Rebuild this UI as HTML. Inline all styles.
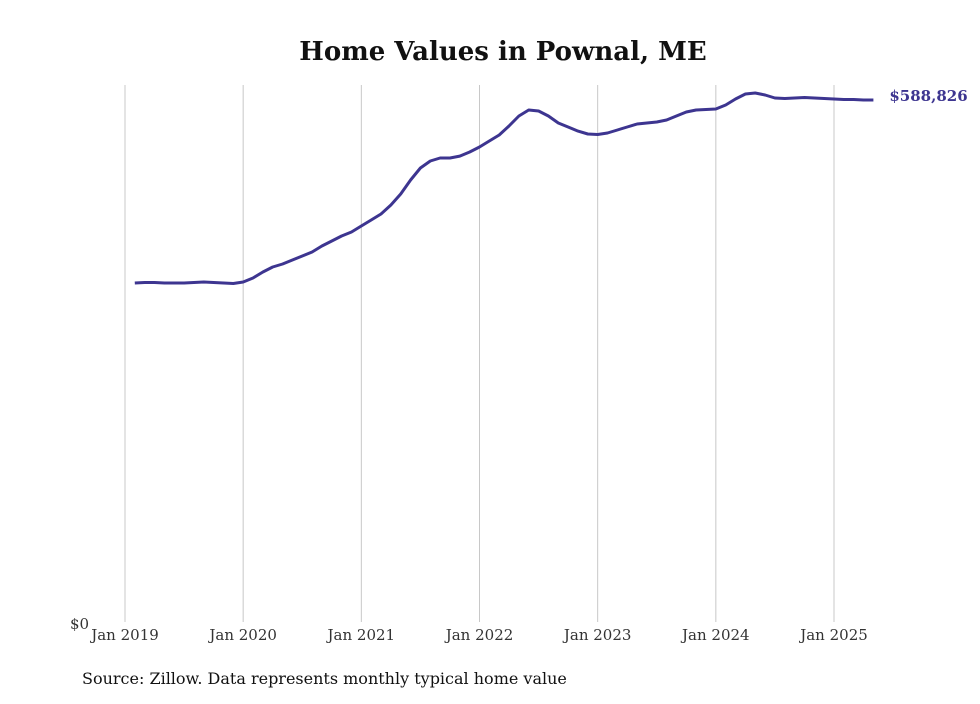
<!DOCTYPE html>
<html><head><meta charset="utf-8">
<style>
body{margin:0;background:#fff;}
svg text{font-family:"DejaVu Serif","Liberation Serif",serif;}
</style></head>
<body>
<svg width="980" height="699" viewBox="0 0 980 699" xmlns="http://www.w3.org/2000/svg">
<text x="503" y="60" text-anchor="middle" font-size="26" font-weight="bold" fill="#111">Home Values in Pownal, ME</text>
<g id="grid"></g>
<g id="xlabels"></g>
<text x="70" y="629" font-size="15" fill="#333">$0</text>
<path id="line" fill="none" stroke="#3d3590" stroke-width="3" stroke-linejoin="round"/>
<text id="endlabel" font-size="15" font-weight="bold" fill="#3d3590"></text>
<text x="82" y="684" font-size="16" fill="#111">Source: Zillow. Data represents monthly typical home value</text>
</svg>
<script>
const tickLabels=["Jan 2019","Jan 2020","Jan 2021","Jan 2022","Jan 2023","Jan 2024","Jan 2025"];
const startMonth=1; // Feb 2019 (months since Jan 2019)
const values=[382.4,383.0,383.0,382.4,382.4,382.4,383.0,383.5,383.0,382.4,381.8,383.5,388.0,394.8,400.4,403.8,408.3,412.8,417.4,424.1,429.8,435.4,439.9,446.7,453.5,460.2,470.4,482.8,498.6,512.1,520.0,523.4,523.4,525.6,530.2,535.8,542.6,549.3,559.5,570.8,577.5,576.4,570.8,562.9,558.4,553.8,550.5,549.9,551.6,555.0,558.4,561.7,562.9,564.0,566.3,570.8,575.3,577.5,578.1,578.7,583.2,590.0,595.6,596.7,594.5,591.1,590.5,591.1,591.6,591.1,590.5,590.0,589.4,589.4,588.8,588.826];
const lastLabel="$588,826";
const x=m=>125+m*(709/72);
const y=v=>622-v*(522/588.826);
const svg=document.querySelector('svg');
const NS="http://www.w3.org/2000/svg";
const grid=document.getElementById('grid'), xl=document.getElementById('xlabels');
tickLabels.forEach((t,i)=>{
  const l=document.createElementNS(NS,'line');
  
  
  l.setAttribute('x1',x(i*12));l.setAttribute('x2',x(i*12));
  l.setAttribute('y1',85);l.setAttribute('y2',622);
  l.setAttribute('stroke','#c8c8c8');l.setAttribute('stroke-width','1');
  grid.appendChild(l);
  const tx=document.createElementNS(NS,'text');
  
  
  tx.setAttribute('x',x(i*12));tx.setAttribute('y',640);
  tx.setAttribute('text-anchor','middle');tx.setAttribute('font-size','15');tx.setAttribute('fill','#333');
  tx.textContent=t;xl.appendChild(tx);
});
document.getElementById('line').setAttribute('d',values.map((v,i)=>(i?'L':'M')+x(startMonth+i).toFixed(1)+','+y(v).toFixed(1)).join(''));
const el=document.getElementById('endlabel');
const li=values.length-1;
el.setAttribute('x',x(startMonth+li)+16);el.setAttribute('y',y(values[li])+1);
el.textContent=lastLabel;
</script>
</body></html>
